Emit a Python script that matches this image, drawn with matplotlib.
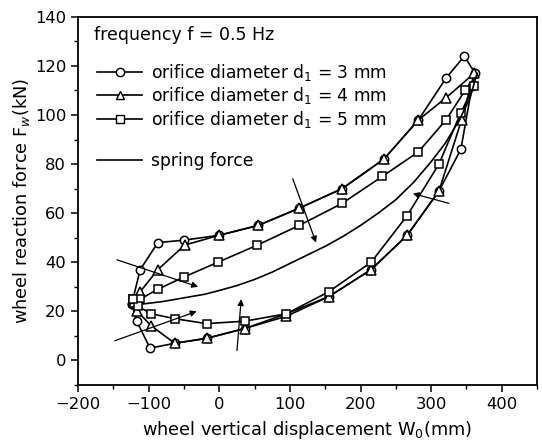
import matplotlib
matplotlib.use("Agg")
import matplotlib.pyplot as plt
from matplotlib.lines import Line2D

# hysteresis loops (x: displacement mm, y: force kN)
d3_x = [-124, -112, -87, -50, 0, 55, 113, 174, 233, 282, 321, 347, 362,
        358, 342, 311, 266, 215, 155, 95, 36, -18, -63, -98, -117, -124]
d3_y = [23, 37, 48, 49, 51, 55, 62, 70, 82, 98, 115, 124, 117,
        112, 86, 69, 51, 37, 26, 19, 13, 9, 7, 5, 16, 23]

d4_x = [-121, -112, -87, -49, 0, 55, 113, 174, 233, 282, 321, 361,
        343, 311, 266, 215, 155, 95, 36, -18, -63, -96, -116, -121]
d4_y = [24, 28, 37, 47, 51, 55, 62, 70, 82, 98, 107, 117,
        98, 69, 51, 37, 26, 18, 13, 9, 7, 14, 20, 24]

d5_x = [-122, -112, -87, -50, -2, 54, 113, 174, 231, 282, 321, 348, 361,
        342, 311, 266, 215, 155, 95, 36, -18, -63, -96, -115, -122]
d5_y = [25, 25, 29, 34, 40, 47, 55, 64, 75, 85, 98, 110, 112,
        101, 80, 59, 40, 28, 19, 16, 15, 17, 19, 22, 25]

spring_x = [-108, -80, -50, -20, 0, 25, 50, 75, 100, 125, 150, 175, 200,
            225, 250, 275, 300, 320, 340, 355, 365]
spring_y = [23, 24, 25.5, 27, 28.5, 30.5, 33, 36, 39.5, 43, 46.5, 50.5, 55,
            60, 65.5, 72.5, 81, 88.5, 98, 107, 117]

# direction arrows (start -> end)
arrows = [((-145, 41), (-30, 30)),
          ((-148, 8), (-32, 20)),
          ((25, 4), (31, 25)),
          ((104, 74), (137, 48)),
          ((325, 64), (274, 68))]

labels = ["orifice diameter d$_1$ = 3 mm",
          "orifice diameter d$_1$ = 4 mm",
          "orifice diameter d$_1$ = 5 mm"]

plt.rcParams['font.family'] = ['DejaVu Sans']
fig = plt.figure(figsize=(5.42, 4.42), dpi=100)
ax = fig.add_axes([0.144, 0.129, 0.847, 0.833])

lw = 1.2
ms = 6
ax.plot(d3_x, d3_y, '-o', color='black', lw=lw, ms=ms, mfc='white', mec='black', mew=1.1)
ax.plot(d4_x, d4_y, '-^', color='black', lw=lw, ms=ms + 0.5, mfc='white', mec='black', mew=1.1)
ax.plot(d5_x, d5_y, '-s', color='black', lw=lw, ms=ms - 0.5, mfc='white', mec='black', mew=1.1)
ax.plot(spring_x, spring_y, '-', color='black', lw=lw)

for (x0, y0), (x1, y1) in arrows:
    ax.annotate('', xy=(x1, y1), xytext=(x0, y0),
                arrowprops=dict(arrowstyle='-|>', color='black', lw=0.9,
                                mutation_scale=9, shrinkA=0, shrinkB=0))

ax.set_xlim(-200, 450)
ax.set_ylim(-10, 140)
ax.set_xticks(range(-200, 401, 100))
ax.set_yticks(range(0, 141, 20))
ax.set_xticks(range(-150, 451, 100), minor=True)
ax.set_yticks(range(-10, 141, 10), minor=True)
ax.tick_params(which='major', direction='out', length=5, width=1.1, labelsize=11.8)
ax.tick_params(which='minor', direction='out', length=3, width=1.0)
for s in ax.spines.values():
    s.set_linewidth(1.3)

ax.set_xlabel("wheel vertical displacement W$_0$(mm)", fontsize=12.8, labelpad=5)
ax.set_ylabel("wheel reaction force F$_w$(kN)", fontsize=12.8, labelpad=2)

ax.text(0.035, 0.975, "frequency f = 0.5 Hz", transform=ax.transAxes,
        fontsize=12.5, va='top', ha='left')

handles = [Line2D([], [], color='black', lw=lw, marker=m, ms=ms, mfc='white', mec='black')
           for m in ['o', '^', 's']]
handles.append(Line2D([], [], color='none'))
handles.append(Line2D([], [], color='black', lw=lw))
ax.legend(handles, labels + [" ", "spring force"], loc='upper left',
          bbox_to_anchor=(0.016, 0.91), frameon=False, fontsize=12.3,
          handlelength=2.6, handletextpad=0.55, labelspacing=0.14,
          borderaxespad=0.3)

fig.savefig("out.png", dpi=100)
